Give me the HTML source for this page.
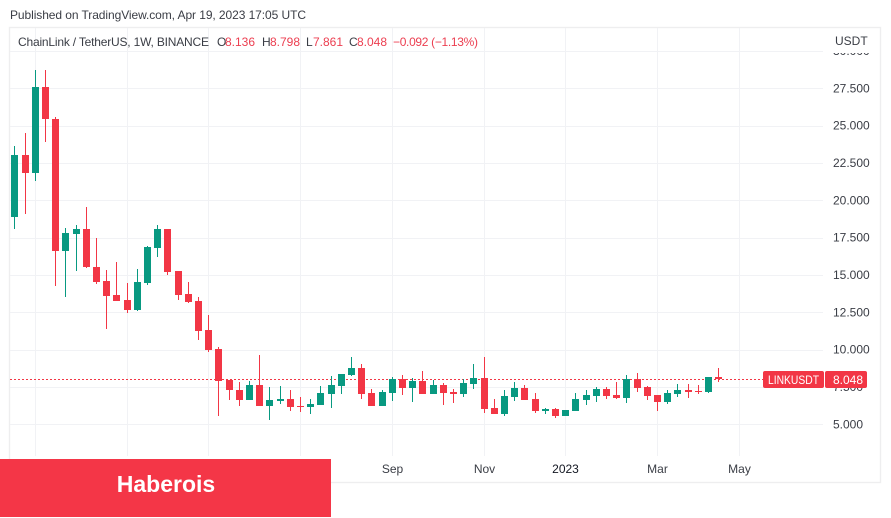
<!DOCTYPE html>
<html lang="en">
<head>
<meta charset="utf-8">
<title>ChainLink / TetherUS chart</title>
<style>
html,body{margin:0;padding:0;background:#fff;width:891px;height:518px;overflow:hidden}
svg{display:block;position:absolute;left:0;top:0}
text{font-family:"Liberation Sans",Arial,sans-serif;font-size:12px;fill:#3a3d45}
</style>
</head>
<body>
<svg id="chart" width="891" height="518" viewBox="0 0 891 518">
  <text x="10" y="19" textLength="296" lengthAdjust="spacing">Published on TradingView.com, Apr 19, 2023 17:05 UTC</text>
  <rect x="9.5" y="27.5" width="871" height="455" fill="#fff" stroke="#eeeeef" stroke-width="1.4"/>
  <g id="grid"></g>
  <g id="ylabels"></g>
  <rect x="826" y="29" width="53" height="24" fill="#fff"/>
  <text x="835" y="45">USDT</text>
  <g id="xlabels"></g>
  <g id="priceline"></g>
  <g id="candles"></g>
  <g>
    <text x="18" y="46" textLength="191" lengthAdjust="spacing">ChainLink / TetherUS, 1W, BINANCE</text>
    <text x="217" y="46">O</text>
    <text id="lo" x="225" y="46" style="fill:#ec3e50"></text>
    <text x="262" y="46">H</text>
    <text id="lh" x="270" y="46" style="fill:#ec3e50"></text>
    <text x="306" y="46">L</text>
    <text id="ll" x="313" y="46" style="fill:#ec3e50"></text>
    <text x="349" y="46">C</text>
    <text id="lc" x="357" y="46" style="fill:#ec3e50"></text>
    <text id="ld" x="393" y="46" textLength="85" lengthAdjust="spacing" style="fill:#ec3e50"></text>
  </g>
  <g id="pricetag">
    <rect x="763" y="371" width="61" height="17" rx="2" fill="#f23645"/>
    <text x="768" y="384" textLength="51" lengthAdjust="spacingAndGlyphs" style="fill:#fff">LINKUSDT</text>
    <rect x="825" y="371" width="42" height="17" rx="2" fill="#f23645"/>
    <text id="tagv" x="848" y="384" text-anchor="middle" style="fill:#fff"></text>
  </g>
  <rect x="0" y="459" width="331" height="58" fill="#f43647"/>
  <text x="166" y="492" text-anchor="middle" style="font-size:23px;font-weight:700;fill:#fff">Haberois</text>
</svg>
<script>
const categories = ['2021-12-20','2021-12-27','2022-01-03','2022-01-10','2022-01-17','2022-01-24','2022-01-31','2022-02-07','2022-02-14','2022-02-21','2022-02-28','2022-03-07','2022-03-14','2022-03-21','2022-03-28','2022-04-04','2022-04-11','2022-04-18','2022-04-25','2022-05-02','2022-05-09','2022-05-16','2022-05-23','2022-05-30','2022-06-06','2022-06-13','2022-06-20','2022-06-27','2022-07-04','2022-07-11','2022-07-18','2022-07-25','2022-08-01','2022-08-08','2022-08-15','2022-08-22','2022-08-29','2022-09-05','2022-09-12','2022-09-19','2022-09-26','2022-10-03','2022-10-10','2022-10-17','2022-10-24','2022-10-31','2022-11-07','2022-11-14','2022-11-21','2022-11-28','2022-12-05','2022-12-12','2022-12-19','2022-12-26','2023-01-02','2023-01-09','2023-01-16','2023-01-23','2023-01-30','2023-02-06','2023-02-13','2023-02-20','2023-02-27','2023-03-06','2023-03-13','2023-03-20','2023-03-27','2023-04-03','2023-04-10','2023-04-17'];
const opens = [18.86,23.04,21.85,27.59,25.47,16.63,17.77,18.08,15.56,14.6,13.65,13.3,12.66,14.48,16.83,18.08,15.27,13.73,13.26,11.32,10.05,7.97,7.3,6.63,7.63,6.23,6.54,6.69,6.23,6.16,6.29,7.03,7.57,8.3,8.77,7.1,6.23,7.1,8.03,7.43,7.9,7.03,7.63,7.16,7.03,7.7,8.1,6.09,5.69,6.83,7.43,6.69,5.89,6.02,5.56,5.89,6.63,6.9,7.36,6.96,6.76,8.03,7.5,6.94,6.49,7.03,7.3,7.23,7.16,8.136];
const highs = [23.64,24.49,28.73,28.73,25.6,18.15,18.35,19.57,17.5,15.34,15.87,14.48,15.4,16.94,18.37,18.1,15.28,14.53,13.51,12.32,10.16,7.98,7.83,7.92,9.64,7.5,7.57,7.3,6.83,6.69,7.57,8.24,8.37,9.51,9.04,7.36,7.3,8.17,8.3,8.1,8.59,7.97,7.77,7.36,8.03,9.04,9.51,6.69,7.3,7.83,7.63,7.1,6.09,6.09,5.96,7.1,7.3,7.5,7.5,7.83,8.3,8.44,7.57,6.96,7.3,7.7,7.7,7.63,8.17,8.798];
const lows = [18.08,19.09,21.32,23.93,14.28,13.55,15.29,15.5,14.42,11.38,13.25,12.47,12.62,14.35,16.23,15.02,13.33,13.14,10.65,9.86,5.58,6.63,6.25,6.6,6.22,5.29,6.34,5.91,5.82,5.69,6.27,6.09,7.03,8.24,6.69,6.2,6.2,6.56,6.96,6.49,7.0,7.0,6.29,6.43,6.83,7.36,5.76,5.67,5.56,6.56,6.6,5.76,5.69,5.42,5.54,5.87,6.29,6.49,6.69,6.69,6.43,7.16,6.63,5.89,6.36,6.83,6.76,7.03,7.1,7.861];
const closes = [23.04,21.85,27.59,25.47,16.63,17.81,18.08,15.56,14.53,13.59,13.28,12.66,14.53,16.88,18.08,15.22,13.68,13.19,11.27,9.98,7.92,7.3,6.63,7.63,6.25,6.63,6.69,6.16,6.14,6.36,7.1,7.63,8.36,8.77,7.03,6.23,7.16,8.03,7.43,7.9,7.03,7.63,7.1,7.03,7.77,8.1,6.02,5.69,6.9,7.43,6.63,5.89,6.02,5.56,5.95,6.69,6.96,7.36,6.9,6.76,8.03,7.43,6.9,6.49,7.1,7.3,7.16,7.16,8.14,8.048];
const priceTicks = [5,7.5,10,12.5,15,17.5,20,22.5,25,27.5,30];
const timeTickIndex = [2,11,19,28,37,46,54,63,71];
const timeTickLabels = ['2022','Mar','May','Jul','Sep','Nov','2023','Mar','May'];

const NS = 'http://www.w3.org/2000/svg';
const UP = '#089981';
const DOWN = '#f23645';
function xScale(i){ return 14.9 + 10.2 * i; }
function yScale(v){ return 424.3 - (v - 5) * 14.93; }
function make(tag, attrs){
  const el = document.createElementNS(NS, tag);
  for (const k in attrs) el.setAttribute(k, attrs[k]);
  return el;
}
const grid = document.getElementById('grid');
const ylabels = document.getElementById('ylabels');
const xlabels = document.getElementById('xlabels');
priceTicks.forEach(function(t){
  const y = Math.round(yScale(t)) + 0.5;
  const line = make('line', {x1:10, x2:823, y1:y, y2:y, stroke:'#f1f2f5', 'stroke-width':1});
  
  
  grid.appendChild(line);
  const label = make('text', {x:833, y:yScale(t) + 4});
  
  
  label.textContent = t.toFixed(3);
  ylabels.appendChild(label);
});
timeTickIndex.forEach(function(idx, n){
  const x = Math.floor(xScale(idx)) + 0.5;
  const line = make('line', {x1:x, x2:x, y1:28, y2:456, stroke:'#f1f2f5', 'stroke-width':1});
  
  
  grid.appendChild(line);
  const label = make('text', {x:x, y:473, 'text-anchor':'middle'});
  
  
  if (/^\d{4}$/.test(timeTickLabels[n])) label.setAttribute('style', 'fill:#131722');
  label.textContent = timeTickLabels[n];
  xlabels.appendChild(label);
});
const last = closes.length - 1;
const lineY = Math.round(yScale(closes[last])) + 0.5;
const priceLine = make('line', {x1:10, x2:763, y1:lineY, y2:lineY, stroke:DOWN, 'stroke-width':1, 'stroke-dasharray':'2 2'});


document.getElementById('priceline').appendChild(priceLine);

const candles = document.getElementById('candles');
categories.forEach(function(date, i){
  const color = closes[i] >= opens[i] ? UP : DOWN;
  const cx = Math.floor(xScale(i));
  const g = make('g', {});
  
  
  const hi = Math.round(yScale(highs[i]));
  const lo = Math.round(yScale(lows[i]));
  const wick = make('rect', {x:cx, width:1, y:hi, height:Math.max(1, lo - hi), fill:color});
  
  
  const top = Math.round(yScale(Math.max(opens[i], closes[i])));
  const bottom = Math.round(yScale(Math.min(opens[i], closes[i])));
  const body = make('rect', {x:cx - 3, width:7, y:top, height:Math.max(1, bottom - top), fill:color});
  
  
  g.appendChild(wick);
  g.appendChild(body);
  candles.appendChild(g);
});
function signed(v){ return (v < 0 ? '\u2212' : '+') + Math.abs(v).toFixed(3); }
const prevClose = closes[last - 1];
const change = closes[last] - prevClose;
const pct = change / prevClose * 100;
document.getElementById('lo').textContent = opens[last].toFixed(3);
document.getElementById('lh').textContent = highs[last].toFixed(3);
document.getElementById('ll').textContent = lows[last].toFixed(3);
document.getElementById('lc').textContent = closes[last].toFixed(3);
document.getElementById('ld').textContent = signed(change) + ' (' + (pct < 0 ? '\u2212' : '+') + Math.abs(pct).toFixed(2) + '%)';
document.getElementById('tagv').textContent = closes[last].toFixed(3);
</script>
</body>
</html>
